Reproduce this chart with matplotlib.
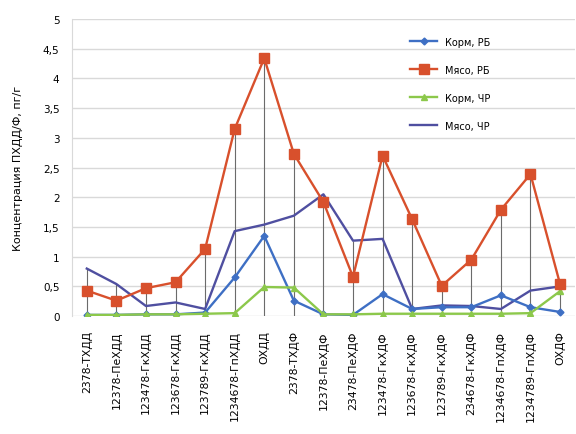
import numpy as np
import matplotlib
matplotlib.use('Agg')
import matplotlib.pyplot as plt

plt.rcParams['font.family'] = ['DejaVu Sans']

categories = ['2378-ТХДД', '12378-ПеХДД', '123478-ГкХДД', '123678-ГкХДД', '123789-ГкХДД',
              '1234678-ГпХДД', 'ОХДД', '2378-ТХДФ', '12378-ПеХДФ', '23478-ПеХДФ',
              '123478-ГкХДФ', '123678-ГкХДФ', '123789-ГкХДФ', '234678-ГкХДФ',
              '1234678-ГпХДФ', '1234789-ГпХДФ', 'ОХДФ']

korm_rb = [0.02, 0.02, 0.03, 0.03, 0.06, 0.65, 1.35, 0.26, 0.03, 0.02,
           0.37, 0.12, 0.15, 0.15, 0.35, 0.15, 0.07]
myaso_rb = [0.43, 0.26, 0.47, 0.57, 1.13, 3.15, 4.34, 2.73, 1.92, 0.66,
            2.70, 1.63, 0.51, 0.95, 1.79, 2.39, 0.54]
korm_chr = [0.02, 0.02, 0.03, 0.03, 0.04, 0.05, 0.49, 0.48, 0.03, 0.03,
            0.04, 0.04, 0.04, 0.04, 0.04, 0.05, 0.42]
myaso_chr = [0.80, 0.54, 0.17, 0.23, 0.12, 1.43, 1.54, 1.69, 2.05, 1.27,
             1.30, 0.12, 0.18, 0.17, 0.12, 0.43, 0.50]

yticks = [0, 0.5, 1, 1.5, 2, 2.5, 3, 3.5, 4, 4.5, 5]
ytick_labels = ['0', '0,5', '1', '1,5', '2', '2,5', '3', '3,5', '4', '4,5', '5']

fig = plt.figure(figsize=(5.76, 4.35), dpi=100)
ax = fig.add_axes([0.125, 0.271, 0.873, 0.683])

x = np.arange(len(categories))

# drop lines from the highest point down to the axis
top = np.max([korm_rb, myaso_rb, korm_chr, myaso_chr], axis=0)
ax.vlines(x, 0, top, color='#6b6b6b', linewidth=0.8, zorder=1)

ax.plot(x, korm_rb, color='#3e6fc4', linewidth=1.7, marker='D', markersize=3.5,
        label='Корм, РБ', zorder=3)
ax.plot(x, myaso_rb, color='#d8502c', linewidth=1.7, marker='s', markersize=6.5,
        label='Мясо, РБ', zorder=4)
ax.plot(x, korm_chr, color='#8cc84b', linewidth=1.7, marker='^', markersize=4,
        label='Корм, ЧР', zorder=3)
ax.plot(x, myaso_chr, color='#4f4fa0', linewidth=1.7, label='Мясо, ЧР', zorder=2)

ax.set_xlim(-0.5, len(categories) - 0.5)
ax.set_ylim(0, 5)
ax.set_yticks(yticks)
ax.set_yticklabels(ytick_labels, fontsize=7.5)
ax.set_xticks(x)
ax.set_xticklabels(categories, rotation=90, fontsize=7.8)
ax.tick_params(axis='both', length=0)
ax.tick_params(axis='y', pad=9)
ax.tick_params(axis='x', pad=10)

ax.yaxis.grid(True, color='#d9d9d9', linewidth=1)
ax.set_axisbelow(True)
for s in ['top', 'right', 'bottom']:
    ax.spines[s].set_visible(False)
ax.spines['left'].set_color('#d9d9d9')

ax.set_ylabel('Концентрация ПХДД/Ф, пг/г', fontsize=8, labelpad=14)

ax.legend(loc='upper left', bbox_to_anchor=(0.672, 0.94), frameon=False,
          fontsize=7, handlelength=2.8, handletextpad=0.8, labelspacing=1.85,
          borderpad=0, borderaxespad=0)

fig.savefig('out.png', dpi=100)
